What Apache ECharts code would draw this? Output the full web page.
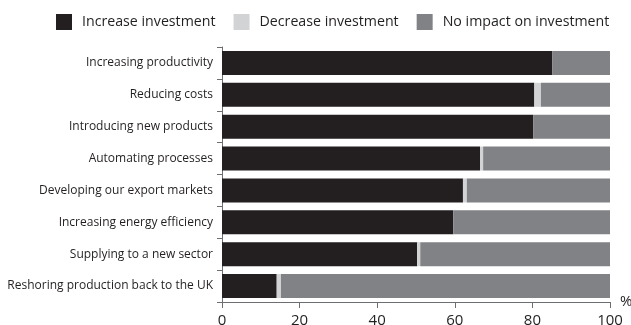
<!DOCTYPE html>
<html>
<head>
<meta charset="utf-8">
<script src="https://cdn.jsdelivr.net/npm/echarts@6/dist/echarts.min.js"></script>
<style>
  html, body { margin: 0; padding: 0; background: #fff; overflow: hidden; }
  #chart { width: 631px; height: 325px; }
</style>
</head>
<body>
<div id="chart"></div>
<script>
// Reasons for investment, share of respondents (%)
const categories = [
  'Increasing productivity',
  'Reducing costs',
  'Introducing new products',
  'Automating processes',
  'Developing our export markets',
  'Increasing energy efficiency',
  'Supplying to a new sector',
  'Reshoring production back to the UK'
];
const increaseInvestment = [85.1, 80.5, 80.2, 66.5, 62.1, 59.6, 50.3, 14.1];
const decreaseInvestment = [0, 1.7, 0, 0.8, 1.0, 0, 0.8, 1.1];
const noImpact = [14.9, 17.8, 19.8, 32.7, 36.9, 40.4, 48.9, 84.8];
const xTicks = [0, 20, 40, 60, 80, 100];

const FONT = '"Open Sans", sans-serif';
const TEXT = '#231f20';
const AXIS = '#6d6e71';

const chart = echarts.init(document.getElementById('chart'), null, { renderer: 'canvas' });

function bar(name, data, color) {
  return {
    name, type: 'bar', stack: 'total', data,
    barWidth: 24,
    itemStyle: { color },
    emphasis: { disabled: true }
  };
}

chart.setOption({
  animation: false,
  textStyle: { fontFamily: FONT },
  legend: {
    left: 51, top: 9,
    itemWidth: 16, itemHeight: 16, itemGap: 18,
    icon: 'rect',
    textStyle: { fontFamily: FONT, fontSize: 14.2, color: TEXT, padding: [0, 0, 0, 5] },
    data: ['Increase investment', 'Decrease investment', 'No impact on investment']
  },
  grid: { left: 222, right: 21, top: 47, bottom: 23, containLabel: false, outerBoundsMode: 'none' },
  xAxis: {
    type: 'value', min: xTicks[0], max: xTicks[xTicks.length - 1], interval: 20,
    name: '%', nameLocation: 'end', nameGap: 10,
    nameTextStyle: { fontFamily: FONT, fontSize: 15, color: TEXT, verticalAlign: 'middle', padding: [0, 0, 6, 0] },
    axisLine: { show: true, lineStyle: { color: AXIS, width: 1 } },
    axisTick: { show: true, length: 6, lineStyle: { color: AXIS } },
    axisLabel: { fontFamily: FONT, fontSize: 15, color: TEXT, margin: 11 },
    splitLine: { show: false }
  },
  yAxis: {
    type: 'category', data: categories, inverse: true,
    axisLine: { show: true, lineStyle: { color: AXIS, width: 1 } },
    axisTick: { show: true, length: 5, lineStyle: { color: AXIS } },
    axisLabel: { fontFamily: FONT, fontSize: 12, color: TEXT, margin: 9 }
  },
  series: [
    bar('Increase investment', increaseInvestment, '#231f20'),
    bar('Decrease investment', decreaseInvestment, '#d1d3d4'),
    bar('No impact on investment', noImpact, '#808285')
  ]
});
</script>
</body>
</html>
